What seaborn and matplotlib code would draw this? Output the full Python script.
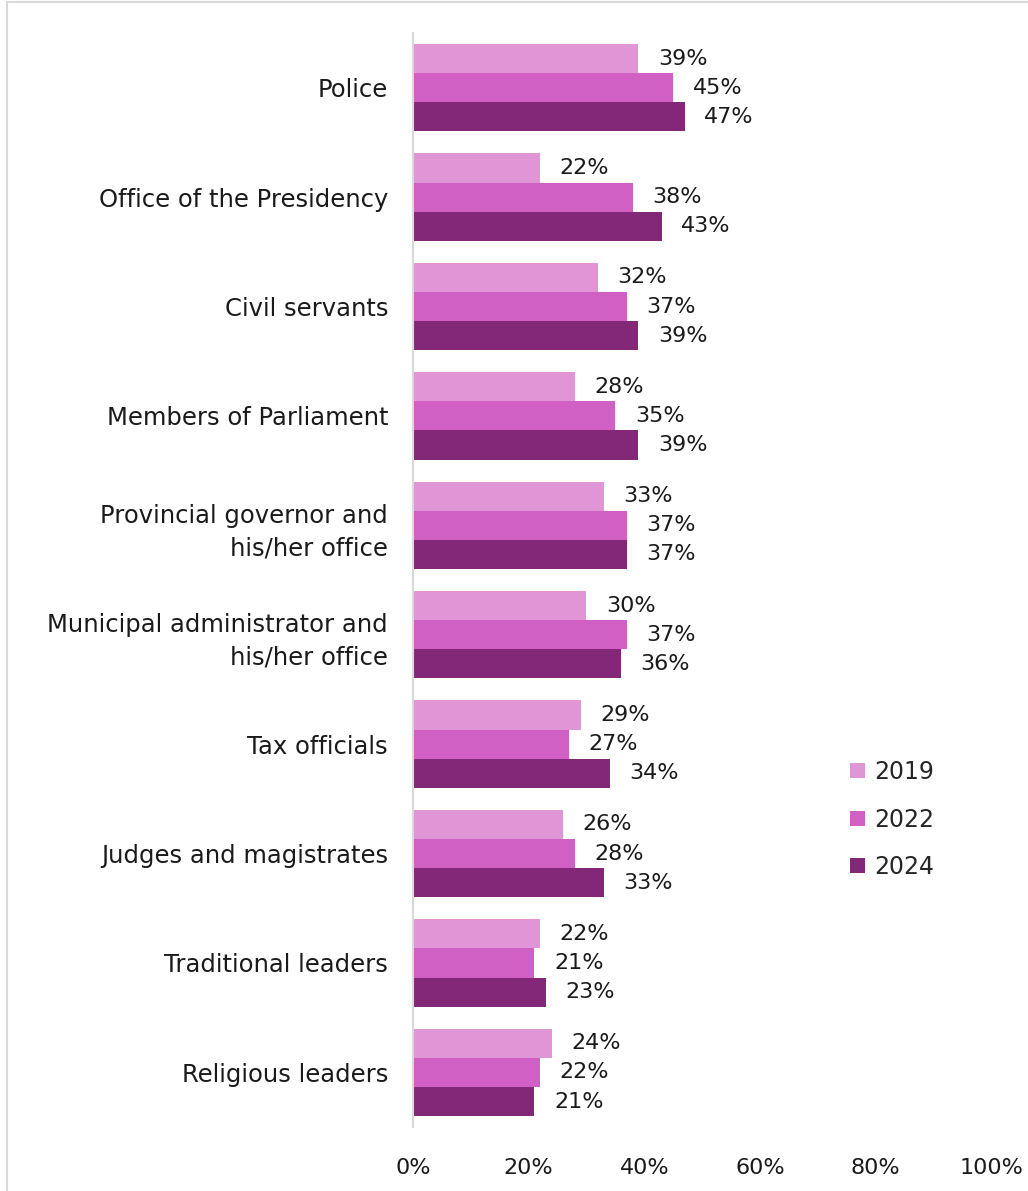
import matplotlib
matplotlib.use("Agg")
import matplotlib.pyplot as plt
import matplotlib.patches as mpatches
import pandas as pd
import seaborn as sns

categories = ["Police", "Office of the Presidency", "Civil servants", "Members of Parliament",
              "Provincial governor and\nhis/her office", "Municipal administrator and\nhis/her office",
              "Tax officials", "Judges and magistrates", "Traditional leaders", "Religious leaders"]
years = ["2019", "2022", "2024"]
vals_2019 = [39, 22, 32, 28, 33, 30, 29, 26, 22, 24]
vals_2022 = [45, 38, 37, 35, 37, 37, 27, 28, 21, 22]
vals_2024 = [47, 43, 39, 39, 37, 36, 34, 33, 23, 21]
colors = ["#E096D6", "#D060C4", "#832878"]

rows = []
for yr, vals in zip(years, [vals_2019, vals_2022, vals_2024]):
    for c, v in zip(categories, vals):
        rows.append({"category": c, "year": yr, "value": v})
df = pd.DataFrame(rows)

sns.set_style("white")
plt.rcParams['font.family'] = ['DejaVu Sans']

fig = plt.figure(figsize=(10.28, 11.91), dpi=100)
ax = fig.add_axes([0.4018, 0.0537, 0.5623, 0.9186])

sns.barplot(data=df, y="category", x="value", hue="year", order=categories,
            hue_order=years, palette=colors, orient="h", width=0.8, ax=ax,
            saturation=1, linewidth=0)

for cont in ax.containers:
    ax.bar_label(cont, fmt="%d%%", padding=14, fontsize=16, color="#1a1a1a")

ax.set_xlim(0, 100)
ax.set_xticks([0, 20, 40, 60, 80, 100])
ax.set_xticklabels([f"{t}%" for t in [0, 20, 40, 60, 80, 100]], fontsize=16, color="#1a1a1a")
ax.tick_params(axis="y", labelsize=17.5, labelcolor="#1a1a1a", length=0, pad=18)
ax.tick_params(axis="x", length=0, pad=22)
for lbl in ax.get_yticklabels():
    lbl.set_linespacing(1.45)
ax.set_xlabel("")
ax.set_ylabel("")
for s in ["top", "right", "bottom"]:
    ax.spines[s].set_visible(False)
ax.spines["left"].set_color("#D9D9D9")
ax.spines["left"].set_linewidth(1.5)

ax.legend(loc="upper left", bbox_to_anchor=(0.72, 0.355), frameon=False, fontsize=17,
          handlelength=0.6, handleheight=0.6, handletextpad=0.4, labelspacing=1.0)

fig.patches.append(mpatches.Rectangle((0.007, -0.1), 1.2, 1.098, transform=fig.transFigure,
                                      fill=False, edgecolor="#D9D9D9", linewidth=1.5))

fig.savefig("out.png", dpi=100)
